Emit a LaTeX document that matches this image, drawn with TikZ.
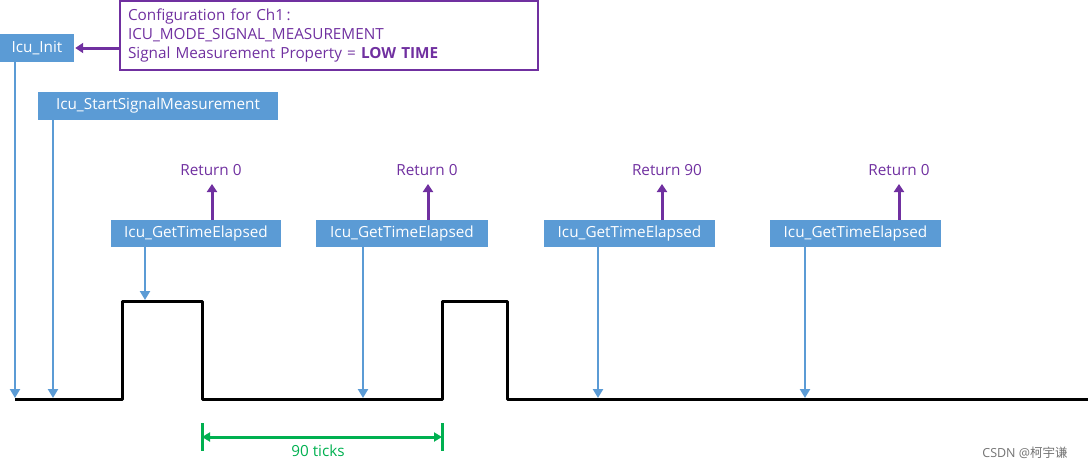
\documentclass[tikz,border=0pt]{standalone}
\usepackage{fontspec}
\setmainfont{Open Sans}
\newfontfamily\cjk{Noto Sans CJK SC}
\usetikzlibrary{arrows.meta}
\definecolor{cblue}{HTML}{5B9BD5}
\definecolor{cpurple}{HTML}{7030A0}
\definecolor{cgreen}{HTML}{00B050}
\tikzset{
  fbox/.style={fill=cblue, text=white, inner sep=0pt, minimum height=28pt, font=\fontsize{15.3}{18}\selectfont},
  barrow/.style={draw=cblue, line width=2.8pt, -{Triangle[length=9pt,width=10pt]}},
  parrow/.style={draw=cpurple, line width=3pt, -{Triangle[length=8pt,width=10pt]}},
  garrow/.style={draw=cgreen, line width=3pt, {Triangle[length=8pt,width=9pt]}-{Triangle[length=8pt,width=9pt]}},
  rlabel/.style={text=cpurple, font=\fontsize{15.3}{18}\selectfont, inner sep=1pt},
  sig/.style={draw=black, line width=3pt, line join=round},
}
\begin{document}
\begin{tikzpicture}[x=1pt,y=-1pt]
\useasboundingbox (0,0) rectangle (1091,471);
% config box
\node[draw=cpurple, line width=2.8pt, text=cpurple, minimum width=418pt, minimum height=69pt, text width=402pt, align=left, inner sep=0pt, font=\fontsize{15.3}{19}\selectfont] (config) at (329,35.5)
  {\raisebox{-3.5pt}{\parbox{402pt}{Configuration for Ch1\,:\\ICU\_MODE\_SIGNAL\_MEASUREMENT\\Signal Measurement Property\,\,=\,\,\textbf{LOW TIME}}}};
\node[fbox, minimum width=74pt] (init) at (37,48) {Icu\_Init};
\node[fbox, minimum width=240pt] (start) at (158,106) {Icu\_StartSignalMeasurement};
\node[fbox, minimum width=170pt, minimum height=27pt] (get1) at (196,233.5) {Icu\_GetTimeElapsed};
\node[fbox, minimum width=172pt, minimum height=27pt] (get2) at (402,233.5) {Icu\_GetTimeElapsed};
\node[fbox, minimum width=171pt, minimum height=27pt] (get3) at (629.5,233.5) {Icu\_GetTimeElapsed};
\node[fbox, minimum width=171pt, minimum height=27pt] (get4) at (855.5,233.5) {Icu\_GetTimeElapsed};
% returns
\node[rlabel] (r1) at (211,170) {Return 0};
\node[rlabel] (r2) at (427,170) {Return 0};
\node[rlabel] (r3) at (667,170) {Return 90};
\node[rlabel] (r4) at (899,170) {Return 0};
\draw[parrow] (get1.north -| 212,0) -- (212,184);
\draw[parrow] (get2.north -| 428,0) -- (428,184);
\draw[parrow] (get3.north -| 662,0) -- (662,184);
\draw[parrow] (get4.north -| 899,0) -- (899,184);
% config arrow
\draw[parrow] ([yshift=-12.5pt]config.west) -- ([xshift=1pt]init.east);
% signal
\draw[sig] (15,399) -- (122,399) -- (122,301) -- (202,301) -- (202,399) -- (442,399) -- (442,301) -- (507,301) -- (507,399) -- (1088,399);
% blue arrows
\coordinate (b0) at (15,398);
\coordinate (b1) at (53,398);
\coordinate (b2) at (145,300);
\coordinate (b3) at (363,398);
\coordinate (b4) at (598,398);
\coordinate (b5) at (805,398);
\draw[barrow] (init.south -| b0) -- (b0);
\draw[barrow] (start.south -| b1) -- (b1);
\draw[barrow] (get1.south -| b2) -- (b2);
\draw[barrow] (get2.south -| b3) -- (b3);
\draw[barrow] (get3.south -| b4) -- (b4);
\draw[barrow] (get4.south -| b5) -- (b5);
% dimension
\coordinate (g1) at (202,437);
\coordinate (g2) at (442,437);
\draw[cgreen, line width=3pt] (202,423) -- (202,451);
\draw[cgreen, line width=3pt] (442,423) -- (442,451);
\draw[garrow] (g1) -- (g2);
\node[text=cgreen, font=\fontsize{15.3}{18}\selectfont, inner sep=0pt] (ticks) at (318,451) {90 ticks};
% watermark
\node[text=black!55, font=\fontsize{12.5}{15}\selectfont, inner sep=0pt] (wm) at (1025,453) {CSDN @{\cjk 柯宇谦}};
\end{tikzpicture}
\end{document}
